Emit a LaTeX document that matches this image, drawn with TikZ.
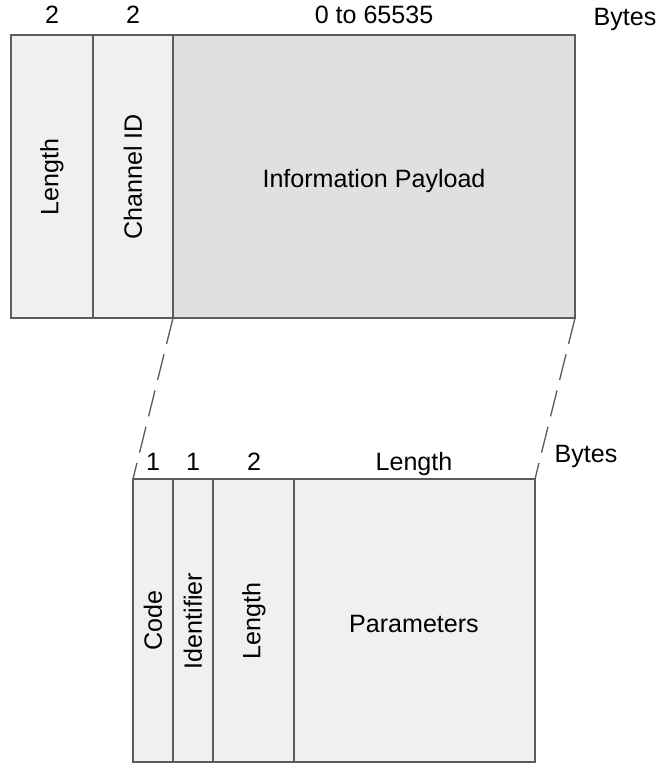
\documentclass[tikz,border=0pt]{standalone}
\usepackage{fontspec}
\setmainfont{Liberation Sans}
\definecolor{fieldgray}{HTML}{F0F0F0}
\definecolor{payloadgray}{HTML}{E0E0E0}
\definecolor{edgegray}{HTML}{5C5C5C}
\begin{document}
\begin{tikzpicture}[x=0.75pt,y=-0.75pt,
  edge/.style={draw=edgegray, line width=1.4pt},
  lbl/.style={font=\fontsize{18.8}{22}\selectfont, inner sep=0pt},
  num/.style={lbl, anchor=base}]
\useasboundingbox (0,0) rectangle (667,778);

% L2CAP frame
\fill [fieldgray] (11,35) rectangle (173,318);
\fill [payloadgray] (173,35) rectangle (575,318);
\draw [edge] (11,35) rectangle (575,318);
\draw [edge] (93,35) -- (93,318);
\draw [edge] (173,35) -- (173,318);

\node[num] (n1) at (52,23) {2};
\node[num] (n2) at (133,23) {2};
\node[num] (n3) at (374,23) {0 to 65535};
\node[num] (by1) at (625,26) {Bytes};

\node[lbl, rotate=90] (flen) at (52,177) {Length};
\node[lbl, rotate=90] (fcid) at (133,177) {Channel ID};
\node[lbl] (fpay) at (374,181) {Information Payload};

% signalling command
\fill [fieldgray] (133,479) rectangle (535,762);
\draw [edge] (133,479) rectangle (535,762);
\draw [edge] (173,479) -- (173,762);
\draw [edge] (213,479) -- (213,762);
\draw [edge] (294,479) -- (294,762);

\node[num] (m1) at (153,470) {1};
\node[num] (m2) at (193,470) {1};
\node[num] (m3) at (254,470) {2};
\node[num] (m4) at (414,470) {Length};
\node[num] (by2) at (586,462) {Bytes};

\node[lbl, rotate=90] (fcode) at (153,621) {Code};
\node[lbl, rotate=90] (fid) at (193,621) {Identifier};
\node[lbl, rotate=90] (flen2) at (254,621) {Length};
\node[lbl] (fpar) at (414,624) {Parameters};

% zoom lines
\coordinate (pl) at (173,318);
\coordinate (pr) at (575,318);
\coordinate (sl) at (133,479);
\coordinate (sr) at (535,479);
\draw [edgegray, line width=1pt, dash pattern=on 20pt off 8pt] (pl) -- (sl);
\draw [edgegray, line width=1pt, dash pattern=on 20pt off 8pt] (pr) -- (sr);

\end{tikzpicture}
\end{document}
